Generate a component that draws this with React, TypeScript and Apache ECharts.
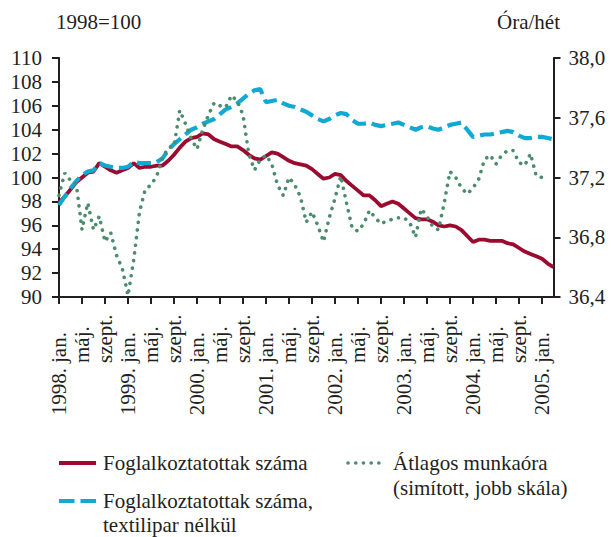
import React, { useEffect, useRef } from "react";
import * as echarts from "echarts";

const monthNames = ["jan.", "febr.", "márc.", "ápr.", "máj.", "jún.", "júl.", "aug.", "szept.", "okt.", "nov.", "dec."];
const startYear = 1998;
const monthCount = 87; // 1998 jan .. 2005 márc

const categories: string[] = Array.from({ length: monthCount }, (_, i) => {
  const y = startYear + Math.floor(i / 12);
  return `${y}. ${monthNames[i % 12]}`;
});

const employment = [
  97.9, 98.4, 99.0, 99.6, 100.0, 100.4, 100.5, 101.2, 100.9, 100.6,
  100.4, 100.6, 100.8, 101.2, 100.8, 100.9, 100.9, 101.0, 101.0, 101.4,
  101.9, 102.5, 103.0, 103.3, 103.4, 103.7, 103.6, 103.2, 103.0, 102.8,
  102.6, 102.6, 102.3, 101.9, 101.6, 101.5, 101.8, 102.1, 102.0, 101.7,
  101.4, 101.2, 101.1, 101.0, 100.7, 100.3, 99.9, 100.0, 100.3, 100.2,
  99.7, 99.3, 98.9, 98.5, 98.5, 98.1, 97.6, 97.8, 98.0, 97.8,
  97.4, 97.0, 96.6, 96.5, 96.5, 96.3, 96.0, 95.9, 96.0, 95.9,
  95.6, 95.1, 94.6, 94.8, 94.8, 94.7, 94.7, 94.7, 94.5, 94.4,
  94.1, 93.8, 93.6, 93.4, 93.2, 92.8, 92.5,
];

const employmentNoTextile = [
  97.7, 98.4, 99.1, 99.7, 100.2, 100.5, 100.6, 101.2, 101.0, 100.9,
  100.8, 100.8, 100.9, 101.3, 101.2, 101.2, 101.2, 101.3, 101.6, 102.3,
  102.8, 103.2, 103.6, 104.0, 104.2, 104.5, 104.7, 104.9, 105.3, 105.7,
  105.9, 106.2, 106.6, 107.0, 107.3, 107.4, 106.3, 106.4, 106.5, 106.2,
  106.0, 105.9, 105.7, 105.5, 105.2, 104.9, 104.7, 104.9, 105.2, 105.4,
  105.3, 104.8, 104.5, 104.5, 104.6, 104.4, 104.3, 104.4, 104.5, 104.6,
  104.4, 104.2, 104.0, 104.2, 104.3, 104.1, 104.0, 104.2, 104.4, 104.5,
  104.6, 104.0, 103.4, 103.5, 103.6, 103.6, 103.7, 103.8, 103.9, 103.8,
  103.5, 103.3, 103.3, 103.4, 103.4, 103.3, 103.2,
];

const avgHours = [
  37.08, 37.23, 37.18, 37.16, 36.85, 37.03, 36.85, 36.94, 36.77, 36.83,
  36.68, 36.59, 36.41, 36.65, 36.97, 37.12, 37.15, 37.21, 37.33, 37.40,
  37.41, 37.65, 37.56, 37.46, 37.39, 37.52, 37.62, 37.70, 37.68, 37.67,
  37.75, 37.71, 37.62, 37.36, 37.25, 37.32, 37.35, 37.29, 37.15, 37.08,
  37.20, 37.15, 37.07, 36.90, 36.97, 36.88, 36.77, 36.93, 37.06, 37.21,
  37.03, 36.86, 36.84, 36.89, 36.98, 36.93, 36.89, 36.91, 36.92, 36.93,
  36.93, 36.90, 36.80, 36.99, 36.94, 36.87, 36.85, 37.03, 37.24, 37.20,
  37.13, 37.09, 37.13, 37.19, 37.32, 37.35, 37.29, 37.35, 37.38, 37.38,
  37.30, 37.28, 37.36, 37.21, 37.20, 37.20,
];

const seriesNames = [
  "Foglalkoztatottak száma",
  "Foglalkoztatottak száma,\ntextilipar nélkül",
  "Átlagos munkaóra\n(simított, jobb skála)",
];
const leftAxisTitle = "1998=100";
const rightAxisTitle = "Óra/hét";

const RED = "#9b0b30";
const BLUE = "#10a9d3";
const GREEN = "#4a8c6b";
const INK = "#231f20";
const FONT = "'Liberation Serif', 'Times New Roman', serif";
const FS = 21;
const GREEN_DASH = [0.1, 7.6];

export default function App() {
  const ref = useRef<HTMLDivElement>(null);
  useEffect(() => {
    if (!ref.current) return;
    const chart = echarts.init(ref.current, null, { renderer: "svg" });
    const axisText = { color: INK, fontFamily: FONT, fontSize: FS };
    const textStyle = (extra: any) => ({ fill: INK, fontFamily: FONT, fontSize: FS, ...extra });
    chart.setOption({
      animation: false,
      textStyle: { fontFamily: FONT },
      grid: { left: 59, right: 57.5, top: 58, bottom: 240, containLabel: false },
      xAxis: [
        {
          type: "category",
          data: categories,
          position: "bottom",
          boundaryGap: false,
          axisLine: { show: true, lineStyle: { color: INK, width: 2 } },
          axisTick: { show: true, interval: 3, length: 7, lineStyle: { color: INK, width: 2 } },
          axisLabel: {
            ...axisText,
            interval: 3,
            rotate: 90,
            align: "left",
            margin: 66,
            formatter: (v: string) => v.split(" ")[1],
          },
          splitLine: { show: false },
        },
        {
          type: "category",
          data: categories,
          position: "bottom",
          offset: 0,
          boundaryGap: false,
          axisLine: { show: false },
          axisTick: { show: false },
          axisLabel: {
            ...axisText,
            interval: 11,
            rotate: 90,
            align: "right",
            margin: 71,
            formatter: (v: string) => v.split(" ")[0],
          },
          splitLine: { show: false },
        },
      ],
      yAxis: [
        {
          type: "value",
          min: 90,
          max: 110,
          interval: 2,
          position: "left",
          axisLine: { show: true, lineStyle: { color: INK, width: 2 } },
          axisTick: { show: true, length: 7, lineStyle: { color: INK, width: 2 } },
          axisLabel: { ...axisText, margin: 17 },
          splitLine: { show: false },
        },
        {
          type: "value",
          min: 36.4,
          max: 38.0,
          interval: 0.4,
          position: "right",
          axisLine: { show: true, lineStyle: { color: INK, width: 2 } },
          axisTick: { show: true, length: 7, lineStyle: { color: INK, width: 2 } },
          axisLabel: {
            ...axisText,
            margin: 15,
            formatter: (v: number) => v.toFixed(1).replace(".", ","),
          },
          splitLine: { show: false },
        },
      ],
      series: [
        {
          name: seriesNames[0],
          type: "line",
          data: employment,
          xAxisIndex: 0,
          yAxisIndex: 0,
          showSymbol: false,
          lineStyle: { color: RED, width: 3.8 },
          z: 2,
        },
        {
          name: seriesNames[1],
          type: "line",
          data: employmentNoTextile,
          xAxisIndex: 0,
          yAxisIndex: 0,
          showSymbol: false,
          lineStyle: { color: BLUE, width: 4.2, type: [14, 6] },
          z: 3,
        },
        {
          name: seriesNames[2],
          type: "line",
          data: avgHours,
          xAxisIndex: 0,
          yAxisIndex: 1,
          showSymbol: false,
          lineStyle: { color: GREEN, width: 3.6, type: GREEN_DASH, cap: "round" },
          z: 4,
        },
      ],
      graphic: [
        {
          type: "text",
          x: 56,
          y: 22,
          style: textStyle({ text: leftAxisTitle, textAlign: "left", textVerticalAlign: "middle", verticalAlign: "middle" }),
        },
        {
          type: "text",
          x: 560,
          y: 22,
          style: textStyle({ text: rightAxisTitle, textAlign: "right", textVerticalAlign: "middle", verticalAlign: "middle" }),
        },
        {
          type: "line",
          shape: { x1: 59, y1: 463, x2: 96, y2: 463 },
          style: { stroke: RED, lineWidth: 3.8 },
        },
        {
          type: "text",
          x: 103,
          y: 463,
          style: textStyle({ text: seriesNames[0], textAlign: "left", textVerticalAlign: "middle", verticalAlign: "middle" }),
        },
        {
          type: "line",
          shape: { x1: 59, y1: 501, x2: 96, y2: 501 },
          style: { stroke: BLUE, lineWidth: 4.2, lineDash: [15.5, 6] },
        },
        {
          type: "text",
          x: 103,
          y: 489,
          style: textStyle({ text: seriesNames[1], lineHeight: 24, textAlign: "left", textVerticalAlign: "top", verticalAlign: "top" }),
        },
        {
          type: "line",
          shape: { x1: 348, y1: 463, x2: 384, y2: 463 },
          style: { stroke: GREEN, lineWidth: 3.6, lineDash: GREEN_DASH, lineCap: "round" },
        },
        {
          type: "text",
          x: 393,
          y: 450,
          style: textStyle({ text: seriesNames[2], lineHeight: 25, textAlign: "left", textVerticalAlign: "top", verticalAlign: "top" }),
        },
      ],
    });
    return () => chart.dispose();
  }, []);
  return (
    <div
      ref={ref}
      style={{ position: "absolute", left: 0, top: 0, width: 611, height: 537 }}
    />
  );
}
